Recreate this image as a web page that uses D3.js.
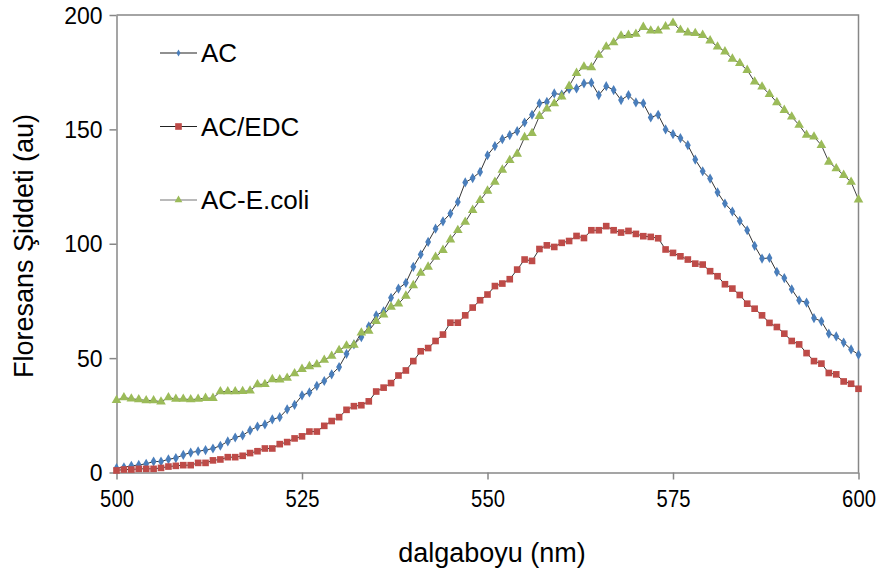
<!DOCTYPE html>
<html><head><meta charset="utf-8">
<script src="https://cdn.jsdelivr.net/npm/d3@7/dist/d3.min.js"></script>
<style>body{margin:0;background:#fff} svg{display:block;font-family:"Liberation Sans",Arial,sans-serif}</style>
</head><body><svg id="c" width="882" height="576"></svg>
<script>
// wavelengths (nm), 1 nm step
const wavelengths = d3.range(500, 601, 1);
const seriesNames = ["AC", "AC/EDC", "AC-E.coli"];
const acValues = [1.9,2.3,2.9,3.3,3.8,4.8,4.8,5.8,6.3,7.7,8.7,9.3,9.8,10.5,11.7,13.6,15.3,16.2,18.4,20.1,
21,23.2,24.2,27.6,29.6,33.7,35,37.9,40,42.9,46.1,51.9,56,59.2,63.9,68.7,70.5,76.4,80.4,82.9,
89.9,95.3,100.8,106.6,109.8,113.2,118.3,126.8,128.7,131.4,138.7,142.7,145.7,147.5,149.2,153,156.4,161.4,162,165.7,
165.2,167.7,167.9,170.1,170.4,165,168.9,167.2,162.8,165,161.8,161.4,155.2,156.4,150,147.9,146.2,143.1,136.8,131.7,
128.5,122.5,117.6,114.1,110,105.9,99.1,93.5,93.8,87.7,85,80.1,75.3,74.3,67.5,66.1,60.7,59.5,56.8,53.8,51.5];
const acEdcValues = [0.9,1.3,1.3,1.6,1.6,1.6,2.0,2.6,2.9,3.2,3.2,4.2,4.2,5.3,5.7,6.7,6.7,7.3,8.5,9.3,
10.5,10.5,12.4,13.3,14.9,15.8,17.9,17.9,20.4,22.5,24.2,27.4,29,29.4,31.1,35.4,37.1,39.1,42.4,44.6,
48.7,53,54.4,57.5,60.3,65.5,65.5,68.7,72.1,75.3,77.8,81.5,82.6,84.5,88.7,93.1,92.5,97.7,99.3,98.6,
100.4,101.2,103.4,102.5,105.9,105.9,107.7,105.9,104.9,105.6,104.3,103.3,103,102.4,97.5,96,94.5,93.1,91.3,90.9,
88,85.8,82.3,80.4,77.6,73.8,71.6,68.7,65.4,63.6,60.7,57.5,56,52.2,48.7,47.6,43.5,42.9,39.8,38.8,36.6];
const acEcoliValues = [31.6,32.8,32.2,31.9,31.5,31.5,30.9,32.8,32.1,32.1,31.9,32.1,32.5,32.5,35.4,35.4,35.4,35.5,35.7,38.5,
38.6,40.7,40.6,41.3,43.3,45.2,46.4,47.2,49.2,50.9,53.4,55.4,55.7,61.1,61.9,66.1,69,72.4,73.8,77.2,
81.8,87.2,89.9,94.2,97.2,101.8,105.9,109.5,114.7,119,123.1,127,132.3,136.5,139.3,146.5,148.3,155.8,159,161.3,
164.3,168.9,174.6,177.4,177.1,182.5,186.1,188,190.9,191.2,191.7,194.7,193.1,193.1,194.9,196.5,193.4,192.3,192,191.2,
188.8,186.1,184,180.8,178.9,175.9,170.8,168.6,165.4,161.8,158.4,155.5,151.9,147.5,146.8,143.1,135.8,132.9,130,127,119.3];
const xTicks = [500, 525, 550, 575, 600];
const yTicks = [0, 50, 100, 150, 200];
const xTitle = "dalgaboyu (nm)";
const yTitle = "Floresans Şiddeti (au)";

const svg = d3.select("#c");
const x = d3.scaleLinear().domain([500, 600]).range([116.5, 858.5]);
const y = d3.scaleLinear().domain([0, 200]).range([472.5, 15]);
const axisColor = "#878787";

// frame (top & right)
svg.append("path").attr("d", `M${x(500)},${y(200)}H${x(600)}V${y(0)}`)
  .attr("fill","none").attr("stroke",axisColor).attr("stroke-width",1.5);

const gx = svg.append("g").attr("transform",`translate(0,${y(0)})`)
  .call(d3.axisBottom(x).tickValues(xTicks).tickSize(7).tickPadding(11).tickSizeOuter(0));
const gy = svg.append("g").attr("transform",`translate(${x(500)},0)`)
  .call(d3.axisLeft(y).tickValues(yTicks).tickSize(7).tickPadding(7).tickSizeOuter(0));
[gx, gy].forEach(g => {
  g.select(".domain").attr("stroke",axisColor).attr("stroke-width",1.5);
  g.selectAll(".tick line").attr("stroke",axisColor).attr("stroke-width",1.5);
  g.selectAll(".tick text").attr("fill","#000").style("font-size","23px")
   .style("font-family",'"Liberation Sans",Arial,sans-serif');
});
gy.selectAll(".tick text").attr("dy","0.35em");
gx.selectAll(".tick text").attr("transform","scale(0.88,1)");

const styles = [
  {vals: acValues, color:"#4a7ebb", line:"#333", sym:d3.symbolDiamond, size:30, lsize:14},
  {vals: acEdcValues, color:"#be4b48", line:"#333", sym:d3.symbolSquare, size:44, lsize:44},
  {vals: acEcoliValues, color:"#9bbb59", line:"#444", sym:d3.symbolTriangle, size:40, lsize:26}
];
const line = d3.line().x(d => x(d[0])).y(d => y(d[1]));
styles.forEach(s => {
  const pts = wavelengths.map((w,i) => [w, s.vals[i]]);
  svg.append("path").datum(pts).attr("d", line).attr("fill","none")
    .attr("stroke", s.line).attr("stroke-width",1);
  svg.append("g").selectAll("path").data(pts).join("path")
    .attr("transform", d => `translate(${x(d[0])},${y(d[1])})`)
    .attr("d", d3.symbol().type(s.sym).size(s.size)).attr("fill", s.color);
});

// legend
const legY = [53, 126.5, 200];
const legLine = ["#222", "#222", "#777"];
styles.forEach((s,i) => {
  const g = svg.append("g").attr("transform",`translate(0,${legY[i]})`);
  g.append("line").attr("x1",160).attr("x2",197).attr("y1",0).attr("y2",0)
    .attr("stroke",legLine[i]).attr("stroke-width",1.2);
  g.append("path").attr("transform","translate(178.5,0)")
    .attr("d", d3.symbol().type(s.sym).size(s.lsize)).attr("fill", s.color);
  g.append("text").attr("x",201).attr("y",0).attr("dy","0.36em")
    .style("font-size","26px").attr("fill","#000").text(seriesNames[i]);
});

// axis titles
svg.append("text").attr("x",492).attr("y",553).attr("dy","0.35em").attr("text-anchor","middle")
  .style("font-size","27px").text(xTitle);
svg.append("text").attr("transform","translate(24,246) rotate(-90)").attr("dy","0.35em")
  .attr("text-anchor","middle").style("font-size","27px").text(yTitle);
</script></body></html>
